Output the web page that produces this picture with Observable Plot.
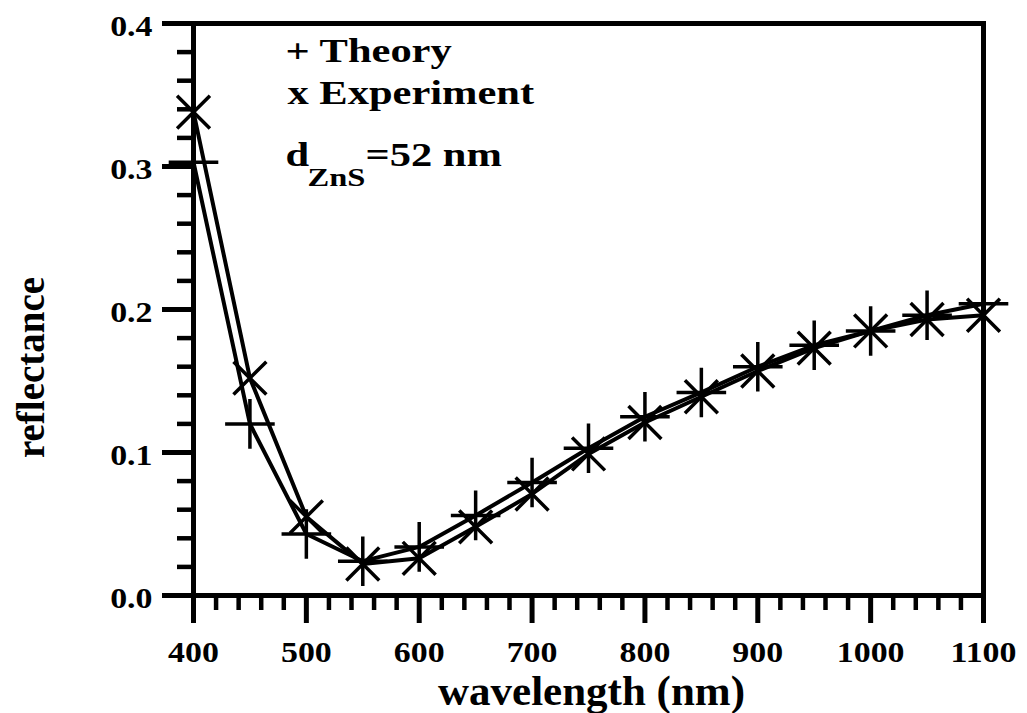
<!DOCTYPE html>
<html>
<head>
<meta charset="utf-8">
<script src="https://cdn.jsdelivr.net/npm/d3@7"></script>
<script src="https://cdn.jsdelivr.net/npm/@observablehq/plot@0.6"></script>
<style>
  html, body { margin: 0; padding: 0; background: #ffffff; }
  #chart { width: 1027px; height: 713px; }
</style>
</head>
<body>
<div id="chart"></div>
<script>
// ---- data ----
const wavelength = [400, 450, 500, 550, 600, 650, 700, 750, 800, 850, 900, 950, 1000, 1050, 1100];
const theory     = [0.303, 0.120, 0.043, 0.024, 0.034, 0.056, 0.079, 0.103, 0.125, 0.142, 0.160, 0.175, 0.185, 0.196, 0.204];
const experiment = [0.338, 0.152, 0.055, 0.022, 0.026, 0.048, 0.071, 0.099, 0.121, 0.139, 0.157, 0.173, 0.185, 0.193, 0.196];

const xMajorTicks = [400, 500, 600, 700, 800, 900, 1000, 1100];
const xTickLabels = ["400", "500", "600", "700", "800", "900", "1000", "1100"];
const xMinorTicks = d3.range(420, 1100, 20).filter(v => v % 100 !== 0);
const yMajorTicks = [0, 0.1, 0.2, 0.3, 0.4];
const yTickLabels = ["0.0", "0.1", "0.2", "0.3", "0.4"];
const yMinorTicks = d3.range(1, 20).filter(i => i % 5 !== 0).map(i => i * 0.02);

const xTitle = "wavelength (nm)";
const yTitle = "reflectance";
const legendTheory = "+ Theory";
const legendExperiment = "x Experiment";
const thicknessLabel = ["d", "ZnS", "=52 nm"];

// tables built from the arrays
const theoryRows = wavelength.map((w, i) => ({w, r: theory[i]}));
const experimentRows = wavelength.map((w, i) => ({w, r: experiment[i]}));
const xLabelRows = xMajorTicks.map((v, i) => ({v, t: xTickLabels[i]}));
const yLabelRows = yMajorTicks.map((v, i) => ({v, t: yTickLabels[i]}));

const plot = Plot.plot({
  width: 1027,
  height: 713,
  marginLeft: 193,
  marginRight: 44,
  marginTop: 23,
  marginBottom: 118,
  x: {domain: [400, 1100], axis: null},
  y: {domain: [0, 0.4], axis: null},
  style: {
    fontFamily: "'Liberation Serif', 'Times New Roman', serif",
    fontWeight: "bold",
    background: "#ffffff",
    color: "#000000",
    overflow: "visible"
  },
  marks: [
    // outward ticks (anchored on the axis lines, extended outward by negative insets)
    Plot.ruleX(xMinorTicks, {x: d => d, y1: 0, y2: 0, insetBottom: -15, stroke: "#000", strokeWidth: 4.5}),
    Plot.ruleX(xMajorTicks, {x: d => d, y1: 0, y2: 0, insetBottom: -28, stroke: "#000", strokeWidth: 5}),
    Plot.ruleY(yMinorTicks, {y: d => d, x1: 400, x2: 400, insetLeft: -16, stroke: "#000", strokeWidth: 4.5}),
    Plot.ruleY(yMajorTicks, {y: d => d, x1: 400, x2: 400, insetLeft: -31, stroke: "#000", strokeWidth: 5}),
    Plot.frame({stroke: "#000", strokeWidth: 5}),

    // tick labels
    Plot.text(xLabelRows, {x: "v", text: "t", frameAnchor: "bottom", lineAnchor: "bottom", dy: 66, fontSize: 30}),
    Plot.text(yLabelRows, {y: "v", text: "t", frameAnchor: "left", textAnchor: "end", lineAnchor: "middle", dx: -41, dy: 3, fontSize: 30}),

    // axis titles
    Plot.text([xTitle], {text: d => d, frameAnchor: "bottom", textAnchor: "middle", lineAnchor: "bottom", dx: 3, dy: 109, fontSize: 43}),
    Plot.text([yTitle], {text: d => d, frameAnchor: "left", textAnchor: "middle", lineAnchor: "bottom", rotate: -90, dx: -150, dy: 58, fontSize: 39}),

    // series
    Plot.line(theoryRows, {x: "w", y: "r", stroke: "#000", strokeWidth: 4}),
    Plot.line(experimentRows, {x: "w", y: "r", stroke: "#000", strokeWidth: 4}),
    Plot.dot(theoryRows, {x: "w", y: "r", symbol: "plus", r: 16, stroke: "#000", strokeWidth: 3.5}),
    Plot.dot(experimentRows, {x: "w", y: "r", symbol: "times", r: 15, stroke: "#000", strokeWidth: 3.5}),

    // legend / annotation text
    Plot.text([legendTheory], {text: d => d, frameAnchor: "top-left", textAnchor: "start", lineAnchor: "bottom", dx: 92, dy: 38, fontSize: 34}),
    Plot.text([legendExperiment], {text: d => d, frameAnchor: "top-left", textAnchor: "start", lineAnchor: "bottom", dx: 94, dy: 80, fontSize: 34}),
    Plot.text([thicknessLabel[0]], {text: d => d, frameAnchor: "top-left", textAnchor: "start", lineAnchor: "bottom", dx: 92, dy: 142, fontSize: 34}),
    Plot.text([thicknessLabel[1]], {text: d => d, frameAnchor: "top-left", textAnchor: "start", lineAnchor: "bottom", dx: 114, dy: 162, fontSize: 26}),
    Plot.text([thicknessLabel[2]], {text: d => d, frameAnchor: "top-left", textAnchor: "start", lineAnchor: "bottom", dx: 172, dy: 142, fontSize: 34})
  ]
});

// widen the serif glyphs horizontally to match the reference's typeface proportions
const stretch = {"30": 1.13, "34": 1.25, "26": 1.25};
for (const [size, s] of Object.entries(stretch)) {
  plot.querySelectorAll(`g[font-size="${size}"] text`).forEach(t => {
    const tr = t.getAttribute("transform") || "";
    t.setAttribute("transform", `${tr} scale(${s},1)`);
  });
}

document.getElementById("chart").appendChild(plot);
</script>
</body>
</html>
